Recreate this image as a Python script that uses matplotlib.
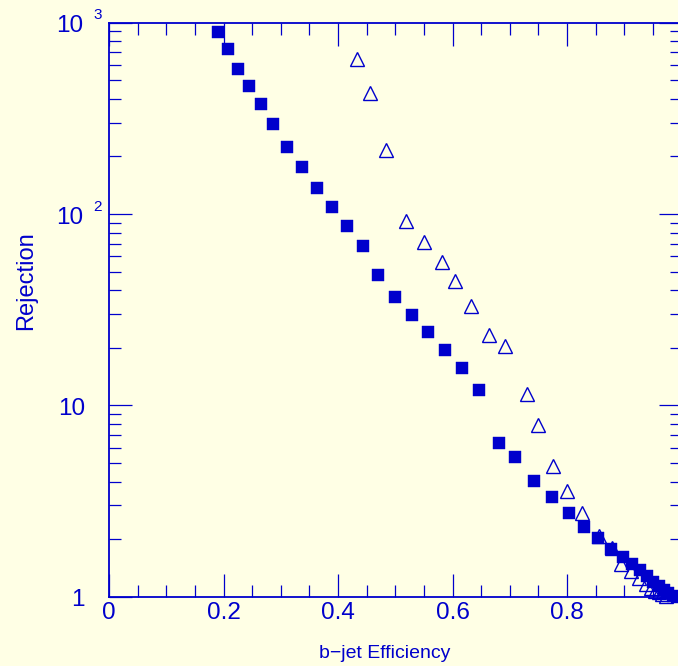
import numpy as np
import matplotlib.pyplot as plt
from matplotlib.ticker import FixedLocator, MultipleLocator, LogLocator, NullFormatter

# filled squares
eff_sq = [0.190, 0.208, 0.226, 0.245, 0.266, 0.287, 0.311, 0.337, 0.363, 0.389,
          0.416, 0.443, 0.470, 0.500, 0.529, 0.558, 0.587, 0.617, 0.646, 0.681,
          0.710, 0.743, 0.774, 0.803, 0.830, 0.854, 0.877, 0.897, 0.913, 0.928,
          0.940, 0.951, 0.961, 0.969, 0.977, 0.985, 0.992]
rej_sq = [892, 727, 575, 467, 376, 296, 225, 176, 136, 108.5,
          86.6, 68.1, 48.1, 36.7, 29.6, 24.3, 19.5, 15.7, 12.0, 6.34,
          5.37, 4.04, 3.33, 2.75, 2.31, 2.02, 1.77, 1.61, 1.48, 1.38,
          1.28, 1.20, 1.137, 1.084, 1.042, 1.008, 1.0]

# open triangles
eff_tri = [0.433, 0.456, 0.483, 0.518, 0.550, 0.582, 0.604, 0.633, 0.664, 0.691,
           0.730, 0.750, 0.775, 0.800, 0.827, 0.856, 0.878, 0.894, 0.911, 0.926,
           0.938, 0.946, 0.954, 0.960, 0.966, 0.973]
rej_tri = [645, 431, 216, 92.4, 71.7, 56.4, 44.7, 33.1, 23.4, 20.4,
           11.5, 7.90, 4.82, 3.58, 2.73, 2.08, 1.79, 1.48, 1.36, 1.25,
           1.165, 1.117, 1.077, 1.052, 1.027, 1.008]

xtick_vals = [0, 0.2, 0.4, 0.6, 0.8]
xtick_labels = ['0', '0.2', '0.4', '0.6', '0.8']
ytick_vals = [1, 10, 100, 1000]
ytick_base = ['1', '10', '10', '10']
ytick_exp = ['', '', '2', '3']

blue = '#0000cc'
bg = '#ffffe5'

plt.rcParams['font.family'] = ['Liberation Sans', 'DejaVu Sans']

fig = plt.figure(figsize=(6.78, 6.66), dpi=100, facecolor=bg)
# axes run past the right edge of the picture, like the reference
ax = fig.add_axes([109 / 678, 69.3 / 666, 572.5 / 678, 574 / 666])
ax.set_facecolor(bg)

ax.plot(eff_tri, rej_tri, linestyle='none', marker='^', ms=9.5,
        mfc='none', mec=blue, mew=1.0, clip_on=False)
ax.plot(eff_sq, rej_sq, linestyle='none', marker='s', ms=9.3,
        mfc=blue, mec=blue, mew=0.3, clip_on=False)

ax.set_yscale('log')
ax.set_xlim(0, 1)
ax.set_ylim(1, 1000)

ax.xaxis.set_major_locator(FixedLocator(xtick_vals))
ax.set_xticklabels(xtick_labels)
ax.xaxis.set_minor_locator(MultipleLocator(0.05))
ax.yaxis.set_major_locator(FixedLocator(ytick_vals))
ax.yaxis.set_minor_locator(LogLocator(base=10, subs=np.arange(2, 10)))
ax.yaxis.set_minor_formatter(NullFormatter())

ax.tick_params(which='both', direction='in', top=True, right=True,
               color=blue, width=0.9, labelcolor=blue)
ax.tick_params(which='major', length=16.5)
ax.tick_params(which='minor', length=8.3)
ax.tick_params(axis='x', labelsize=17.5, pad=4)
ax.tick_params(axis='y', labelleft=False)

for s in ax.spines.values():
    s.set_color(blue)
    s.set_linewidth(1.3)

# y labels in ROOT style: "10" with a small raised exponent
ytr = ax.get_yaxis_transform()
for v, base, ex in zip(ytick_vals, ytick_base, ytick_exp):
    off = -26 if ex else -24
    ax.annotate(base, xy=(0, v), xycoords=ytr, xytext=(off, -9.5),
                textcoords='offset pixels', ha='right', va='baseline',
                fontsize=17.5, color=blue, annotation_clip=False)
    if ex:
        ax.annotate(ex, xy=(0, v), xycoords=ytr, xytext=(-16, 3.5),
                    textcoords='offset pixels', ha='left', va='baseline',
                    fontsize=11, color=blue, annotation_clip=False)

fig.text(25.8 / 678, 1 - 281 / 666, 'Rejection', rotation=90,
         ha='center', va='center', fontsize=17, color=blue)
fig.text(385 / 678, 1 - 654 / 666, 'b\u2212jet Efficiency',
         ha='center', va='center', fontsize=14, color=blue)

fig.savefig('out.png', dpi=100, facecolor=bg)
